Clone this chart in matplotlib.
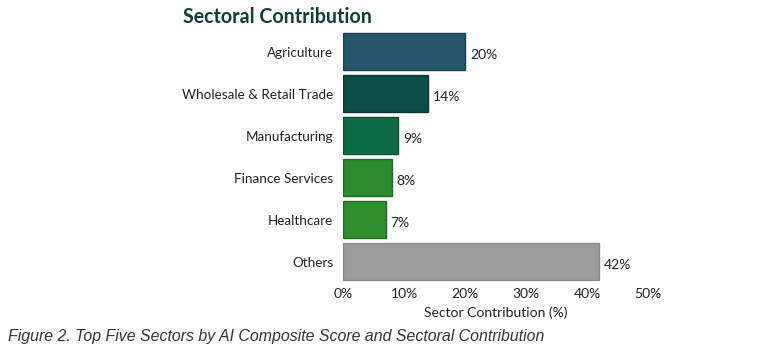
import matplotlib.pyplot as plt
from matplotlib.ticker import FuncFormatter

# Data
sectors = ["Agriculture", "Wholesale & Retail Trade", "Manufacturing",
           "Finance Services", "Healthcare", "Others"]
contribution = [20, 14, 9, 8, 7, 42]
bar_colors = ["#25566a", "#0c4d4a", "#0b6b45", "#2a8c2c", "#2e902c", "#9c9c9c"]
edge_colors = ["#173f4f", "#073634", "#064f31", "#1e6b20", "#216d20", "#8a8a8a"]
x_ticks = [0, 10, 20, 30, 40, 50]

plt.rcParams['font.family'] = ['Lato', 'DejaVu Sans']

fig = plt.figure(figsize=(7.68, 3.55), dpi=100)
ax = fig.add_axes([0.4466, 0.203, 0.3972, 0.711])

y = range(len(sectors))
ax.barh(y, contribution, height=0.88, color=bar_colors,
        edgecolor=edge_colors, linewidth=1.0)

# value labels at bar ends
for i, v in enumerate(contribution):
    ax.text(v + 0.8, i + 0.08, f"{v}%", va="center", ha="left",
            fontsize=10, color="#222222")

ax.set_yticks(list(y))
ax.set_yticklabels(sectors, fontsize=9.7, color="#222222")
ax.set_ylim(len(sectors) - 0.5, -0.5)
ax.set_xlim(0, 50)
ax.set_xticks(x_ticks)
ax.xaxis.set_major_formatter(FuncFormatter(lambda v, p: f"{v:.0f}%"))
ax.tick_params(axis="x", labelsize=10, colors="#222222", length=0, pad=4)
ax.tick_params(axis="y", length=0, pad=7)
ax.set_xlabel("Sector Contribution (%)", fontsize=10, color="#222222", labelpad=4)
for s in ax.spines.values():
    s.set_visible(False)

fig.text(0.238, 0.953, "Sectoral Contribution", fontsize=14.1, fontweight="bold",
         color="#0e3f38", ha="left", va="center")
fig.text(0.0105, 0.053,
         "Figure 2. Top Five Sectors by AI Composite Score and Sectoral Contribution",
         fontsize=11.4, style="italic", color="#333333", ha="left", va="center",
         family="Liberation Sans")

fig.savefig("out.png", dpi=100)
